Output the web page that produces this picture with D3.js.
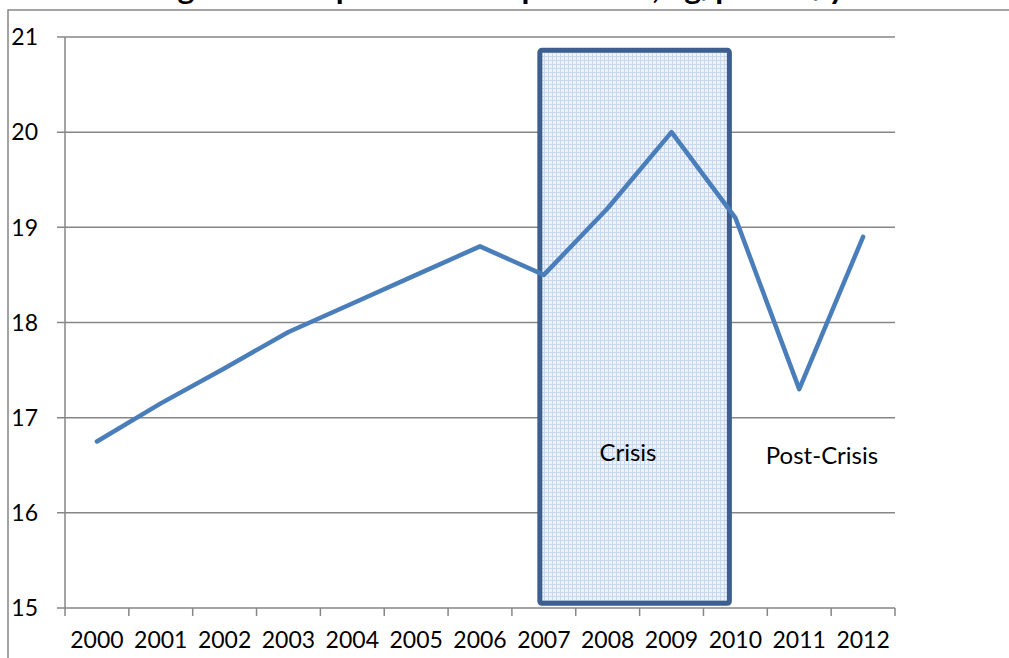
<!DOCTYPE html>
<html><head><meta charset="utf-8">
<script src="https://cdn.jsdelivr.net/npm/d3@7"></script>
<style>html,body{margin:0;padding:0;background:#fff;overflow:hidden}</style>
</head><body>
<svg id="c" width="1009" height="658"></svg>
<script>
const years = ["2000","2001","2002","2003","2004","2005","2006","2007","2008","2009","2010","2011","2012"];
const values = [16.75,17.15,17.52,17.9,18.2,18.5,18.8,18.5,19.2,20.0,19.1,17.3,18.9];
const yTicks = [15,16,17,18,19,20,21];
const crisisPeriod = ["2007","2010"];
const crisisRange = [15.05,20.86];
const titleText = "Average Consumption of Fish per Head, kg/person/year";

const svg = d3.select("#c");
const font = "Lato, 'Open Sans', sans-serif";
const grey = "#868686";
const fs = 23;

// frame
svg.append("line").attr("x1",8).attr("x2",8).attr("y1",9.25).attr("y2",700).attr("stroke",grey).attr("stroke-width",1.5);
svg.append("line").attr("x1",8).attr("x2",1009).attr("y1",10).attr("y2",10).attr("stroke",grey).attr("stroke-width",1.5);
// clipped title (only descenders visible, as in the reference)
svg.append("text").attr("x",95).attr("y",-1.5).attr("text-anchor","start")
  .attr("textLength",795).attr("lengthAdjust","spacingAndGlyphs")
  .attr("font-family",font).attr("font-weight","bold").attr("font-size",28).attr("fill","#000").text(titleText);

const x = d3.scaleBand().domain(years).range([65,895]);
const y = d3.scaleLinear().domain([15,21]).range([608,37]);

// pattern
const defs = svg.append("defs");
const pat = defs.append("pattern").attr("id","dots").attr("patternUnits","userSpaceOnUse").attr("width",4).attr("height",4);
pat.append("rect").attr("width",4).attr("height",4).attr("fill","#eef3fa");
pat.append("rect").attr("x",0).attr("y",0).attr("width",4).attr("height",1).attr("fill","#c9d8ee");
pat.append("rect").attr("x",0).attr("y",0).attr("width",1).attr("height",4).attr("fill","#c9d8ee");

// gridlines
svg.append("g").selectAll("line").data(yTicks).join("line")
  .attr("x1",57).attr("x2",895).attr("y1",d=>y(d)).attr("y2",d=>y(d))
  .attr("stroke",grey).attr("stroke-width",1.5);

// y axis line
svg.append("line").attr("x1",65).attr("x2",65).attr("y1",y(21)).attr("y2",y(15)).attr("stroke",grey).attr("stroke-width",1.5);
// y labels
svg.append("g").selectAll("text").data(yTicks).join("text")
  .attr("x",38).attr("y",d=>y(d)).attr("dy","0.36em").attr("text-anchor","end")
  .attr("font-family",font).attr("font-size",fs).attr("fill","#000").text(d=>d);

// x ticks
const tickPos = years.map(d=>x(d)).concat([x.range()[1]]);
svg.append("g").selectAll("line").data(tickPos).join("line")
  .attr("x1",d=>d).attr("x2",d=>d).attr("y1",y(15)).attr("y2",y(15)+8)
  .attr("stroke",grey).attr("stroke-width",1.5);
svg.append("g").selectAll("text").data(years).join("text")
  .attr("x",d=>x(d)+x.bandwidth()/2).attr("y",648).attr("text-anchor","middle")
  .attr("font-family",font).attr("font-size",fs).attr("fill","#000").text(d=>d);

// crisis box
const bx0 = x(crisisPeriod[0]) + x.bandwidth()/2 - 4;
const bx1 = x(crisisPeriod[1]) + x.bandwidth()/2 - 6;
svg.append("rect").attr("x",bx0).attr("y",y(crisisRange[1]))
  .attr("width",bx1-bx0).attr("height",y(crisisRange[0])-y(crisisRange[1]))
  .attr("rx",2).attr("fill","url(#dots)").attr("stroke","#3d5f8f").attr("stroke-width",5);

// line
const line = d3.line().x((d,i)=>x(years[i])+x.bandwidth()/2).y(d=>y(d));
svg.append("path").datum(values).attr("d",line).attr("fill","none")
  .attr("stroke","#4a7ebb").attr("stroke-width",4.5).attr("stroke-linejoin","round").attr("stroke-linecap","round");

// labels
svg.append("text").attr("x",628).attr("y",461).attr("text-anchor","middle")
  .attr("font-family",font).attr("font-size",24).attr("fill","#000").text("Crisis");
svg.append("text").attr("x",822).attr("y",464).attr("text-anchor","middle")
  .attr("font-family",font).attr("font-size",24).attr("fill","#000").text("Post-Crisis");
</script>
</body></html>
